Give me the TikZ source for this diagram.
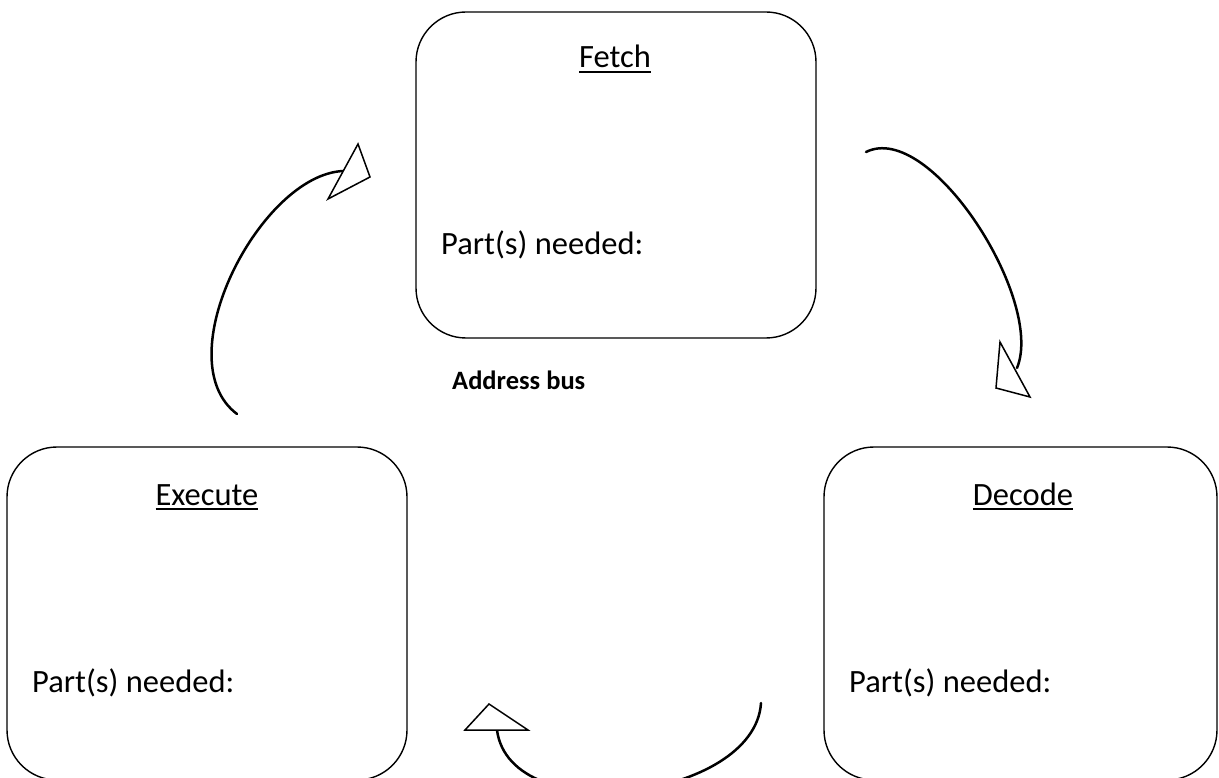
\documentclass[tikz,border=0pt]{standalone}
\usepackage{fontspec}
\setmainfont{Carlito}
\newcommand{\uline}[1]{\setbox0\hbox{#1}\rlap{\rule[-5pt]{\wd0}{2pt}}\box0}
\begin{document}
\begin{tikzpicture}[x=1pt,y=-1pt,
  stagebox/.style={draw=black, line width=1.4pt, rounded corners=50pt, inner sep=0pt},
  titletext/.style={anchor=base, font=\fontsize{32.5}{38}\selectfont},
  parttext/.style={anchor=base west, inner sep=0pt, font=\fontsize{32.5}{38}\selectfont},
  flowline/.style={line width=2.5pt, line cap=round},
  headtri/.style={draw=black, fill=white, line width=1.5pt, line join=miter}]
\useasboundingbox (0,0) rectangle (1219,778);
\begin{scope}
\clip (0,0) rectangle (1219,778);

% the three stages of the cycle
\node[stagebox, minimum width=400pt, minimum height=326pt] (fetch) at (616,175) {};
\node[stagebox, minimum width=400pt, minimum height=333pt] (execute) at (207,613.5) {};
\node[stagebox, minimum width=393pt, minimum height=333pt] (decode) at (1020.5,613.5) {};

\node[titletext] (fetchtitle) at (615,68) {\uline{Fetch}};
\node[parttext] (fetchparts) at (441,255) {Part(s) needed:};
\node[titletext] (executetitle) at (207,505) {\uline{Execute}};
\node[parttext] (executeparts) at (32,692) {Part(s) needed:};
\node[titletext] (decodetitle) at (1023,505) {\uline{Decode}};
\node[parttext] (decodeparts) at (849,692) {Part(s) needed:};

\node[anchor=base west, inner sep=0pt, font=\fontsize{26.5}{32}\selectfont\bfseries] (bus) at (452,389) {Address bus};

% end points of the curved arrows
\coordinate (ef0) at (237,414);
\coordinate (ef1) at (343,171);
\coordinate (fd0) at (866,152);
\coordinate (fd1) at (1017,368);
\coordinate (de0) at (761,703);
\coordinate (de1) at (497,730);

% execute -> fetch
\draw[flowline] (ef0) .. controls (165,360) and (260,175) .. (ef1);
\draw[headtri] (358,144) -- (370,177) -- (328,199) -- cycle;

% fetch -> decode
\draw[flowline] (fd0) .. controls (930,120) and (1045,300) .. (fd1);
\draw[headtri] (1000,342) -- (996,388) -- (1030,397) -- cycle;

% decode -> execute
\draw[flowline] (de0) .. controls (755,800) and (510,830) .. (de1);
\draw[headtri] (465,730) -- (489,704) -- (528,730) -- cycle;
\end{scope}
\end{tikzpicture}
\end{document}
